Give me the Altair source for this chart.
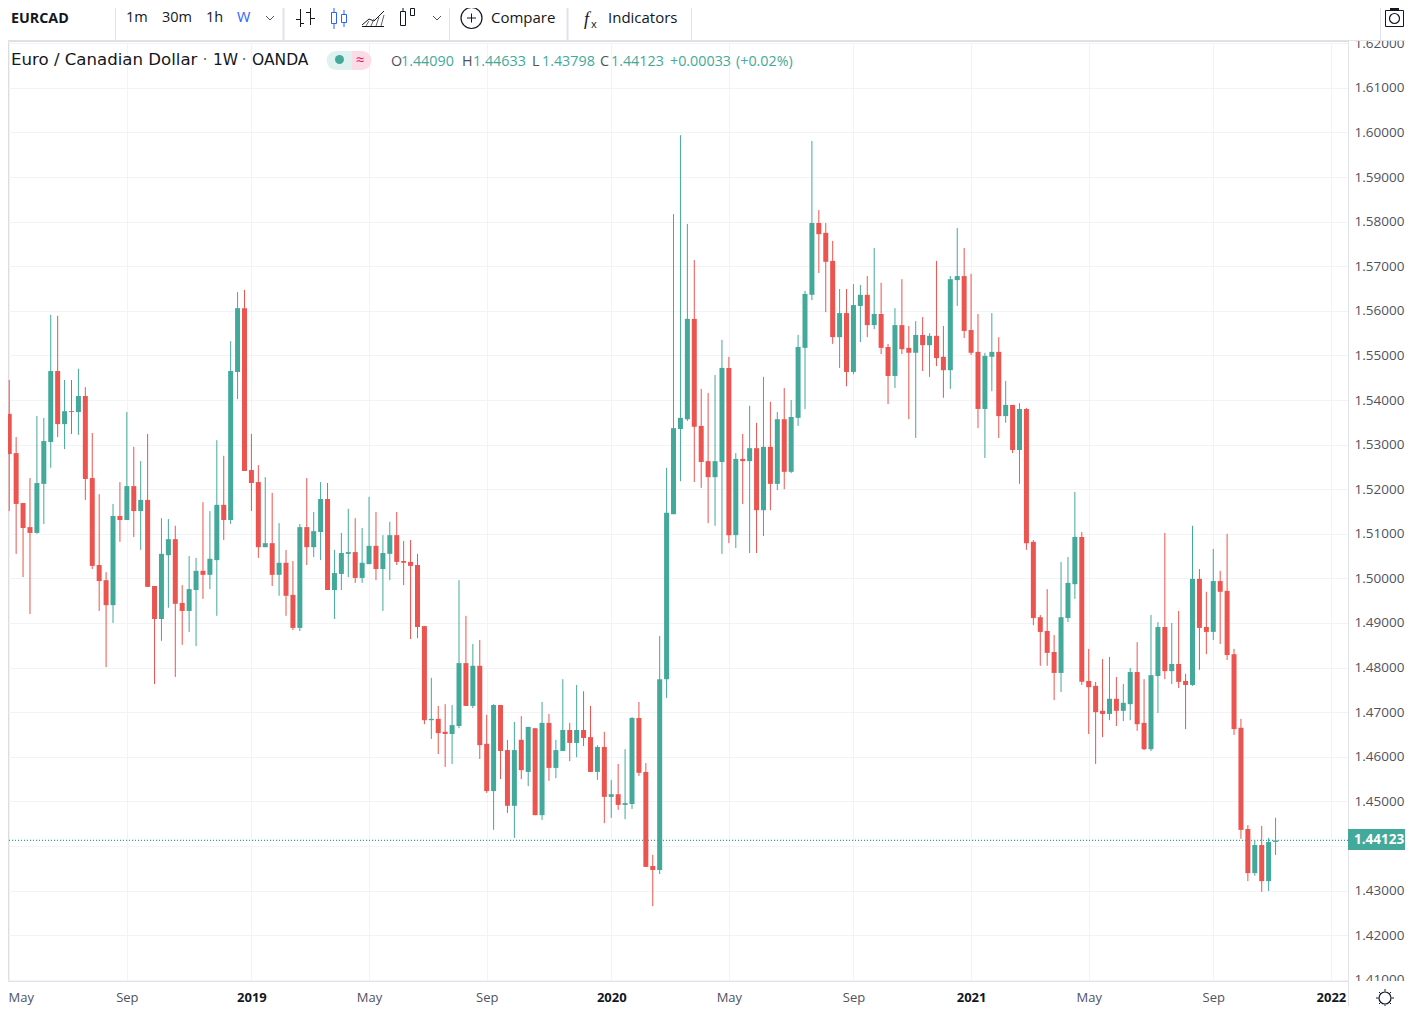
import altair as alt
import pandas as pd

opens = [1.5564,1.5369,1.5281,1.5169,1.5115,1.5102,1.5212,1.5306,1.5465,1.5346,
1.5375,1.5373,1.5409,1.5225,1.5030,1.4996,1.4940,1.5140,1.5131,1.5207,
1.5151,1.5176,1.4983,1.4909,1.5052,1.5088,1.4945,1.4927,1.4974,1.5017,
1.5008,1.5041,1.5165,1.5131,1.5463,1.5606,1.5243,1.5216,1.5070,1.5079,
1.5008,1.5035,1.4963,1.4889,1.5115,1.5070,1.5104,1.5178,1.4974,1.5010,
1.5055,1.5059,1.5001,1.5032,1.5073,1.5021,1.5055,1.5097,1.5039,1.5037,
1.5030,1.4893,1.4682,1.4685,1.4656,1.4651,1.4669,1.4810,1.4714,1.4804,
1.4629,1.4523,1.4716,1.4615,1.4490,1.4638,1.4566,1.4664,1.4469,1.4676,
1.4575,1.4613,1.4660,1.4631,1.4660,1.4644,1.4566,1.4622,1.4510,1.4516,
1.4492,1.4494,1.4687,1.4566,1.4355,1.4346,1.4774,1.5144,1.5335,1.5357,
1.5582,1.5342,1.5263,1.5227,1.5261,1.5472,1.5097,1.5268,1.5263,1.5292,
1.5153,1.5295,1.5212,1.5357,1.5239,1.5360,1.5517,1.5636,1.5797,1.5775,
1.5712,1.5541,1.5595,1.5463,1.5611,1.5636,1.5568,1.5593,1.5519,1.5454,
1.5568,1.5517,1.5506,1.5546,1.5523,1.5544,1.5497,1.5467,1.5669,1.5678,
1.5557,1.5508,1.5380,1.5497,1.5508,1.5364,1.5389,1.5288,1.5380,1.5082,
1.4913,1.4882,1.4835,1.4788,1.4911,1.4987,1.5093,1.4770,1.4759,1.4703,
1.4696,1.4730,1.4703,1.4718,1.4790,1.4676,1.4617,1.4781,1.4891,1.4792,
1.4808,1.4770,1.4761,1.4999,1.4891,1.4880,1.4994,1.4972,1.4830,1.4665,
1.4438,1.4339,1.4402,1.4321,1.44090]

closes = [1.5366,1.5279,1.5167,1.5113,1.5102,1.5214,1.5308,1.5465,1.5346,1.5375,
1.5373,1.5409,1.5223,1.5028,1.4994,1.4940,1.5140,1.5131,1.5207,1.5151,
1.5176,1.4981,1.4909,1.5055,1.5088,1.4943,1.4927,1.4976,1.5017,1.5008,
1.5044,1.5165,1.5131,1.5465,1.5606,1.5241,1.5214,1.5070,1.5079,1.5008,
1.5035,1.4961,1.4889,1.5115,1.5070,1.5106,1.5178,1.4974,1.5012,1.5057,
1.5059,1.5001,1.5035,1.5073,1.5021,1.5057,1.5097,1.5037,1.5035,1.5028,
1.4891,1.4682,1.4685,1.4653,1.4651,1.4671,1.4810,1.4714,1.4804,1.4626,
1.4523,1.4716,1.4613,1.4490,1.4615,1.4570,1.4667,1.4469,1.4676,1.4575,
1.4615,1.4660,1.4631,1.4660,1.4642,1.4566,1.4622,1.4510,1.4516,1.4492,
1.4496,1.4687,1.4564,1.4353,1.4346,1.4774,1.5147,1.5337,1.5360,1.5582,
1.5340,1.5261,1.5227,1.5263,1.5472,1.5097,1.5268,1.5263,1.5292,1.5153,
1.5295,1.5212,1.5357,1.5239,1.5362,1.5519,1.5638,1.5797,1.5772,1.5710,
1.5541,1.5595,1.5463,1.5613,1.5636,1.5568,1.5593,1.5517,1.5454,1.5568,
1.5514,1.5506,1.5546,1.5523,1.5544,1.5494,1.5467,1.5671,1.5678,1.5555,
1.5506,1.5380,1.5499,1.5508,1.5364,1.5389,1.5288,1.5380,1.5079,1.4911,
1.4880,1.4833,1.4788,1.4913,1.4990,1.5093,1.4768,1.4756,1.4700,1.4696,
1.4730,1.4703,1.4721,1.4790,1.4673,1.4617,1.4783,1.4891,1.4792,1.4808,
1.4768,1.4761,1.4999,1.4889,1.4880,1.4994,1.4970,1.4828,1.4662,1.4436,
1.4339,1.4402,1.4321,1.4409,1.44123]

highs = [1.5593,1.5445,1.5317,1.5169,1.5225,1.5364,1.5360,1.5591,1.5589,1.5445,
1.5445,1.5470,1.5429,1.5326,1.5189,1.5014,1.5167,1.5216,1.5373,1.5295,
1.5263,1.5324,1.4983,1.5135,1.5133,1.5118,1.4985,1.5050,1.5046,1.5171,
1.5151,1.5310,1.5275,1.5532,1.5642,1.5647,1.5324,1.5254,1.5227,1.5192,
1.5124,1.5064,1.5039,1.5122,1.5225,1.5149,1.5216,1.5214,1.5064,1.5102,
1.5156,1.5135,1.5113,1.5183,1.5149,1.5097,1.5127,1.5149,1.5084,1.5086,
1.5055,1.4893,1.4777,1.4714,1.4718,1.4716,1.4996,1.4916,1.4853,1.4862,
1.4694,1.4718,1.4716,1.4638,1.4678,1.4691,1.4667,1.4664,1.4723,1.4696,
1.4638,1.4774,1.4676,1.4761,1.4747,1.4714,1.4626,1.4656,1.4548,1.4584,
1.4617,1.4689,1.4723,1.4586,1.4380,1.4871,1.5248,1.5817,1.5994,1.5795,
1.5714,1.5425,1.5416,1.5456,1.5535,1.5497,1.5281,1.5324,1.5387,1.5349,
1.5452,1.5396,1.5373,1.5427,1.5400,1.5546,1.5645,1.5981,1.5826,1.5797,
1.5757,1.5649,1.5649,1.5660,1.5658,1.5678,1.5741,1.5663,1.5526,1.5606,
1.5671,1.5566,1.5577,1.5586,1.5550,1.5712,1.5566,1.5678,1.5786,1.5741,
1.5683,1.5593,1.5506,1.5595,1.5541,1.5443,1.5389,1.5393,1.5382,1.5086,
1.4918,1.4976,1.4873,1.5037,1.5048,1.5194,1.5104,1.4842,1.4768,1.4819,
1.4824,1.4779,1.4763,1.4799,1.4857,1.4774,1.4918,1.4902,1.5102,1.4900,
1.4927,1.4786,1.5118,1.5021,1.4970,1.5066,1.5017,1.5100,1.4842,1.4685,
1.4447,1.4413,1.4445,1.4418,1.44633]

lows = [1.5337,1.5151,1.5055,1.5003,1.4920,1.5100,1.5122,1.5248,1.5317,1.5290,
1.5324,1.5322,1.5176,1.5021,1.4927,1.4801,1.4900,1.5082,1.5131,1.5093,
1.5064,1.4981,1.4763,1.4860,1.4934,1.4779,1.4851,1.4880,1.4848,1.4954,
1.4976,1.4916,1.5086,1.5122,1.5402,1.5241,1.5151,1.5046,1.5070,1.4983,
1.4961,1.4916,1.4884,1.4882,1.5030,1.5048,1.5041,1.4974,1.4909,1.4974,
1.5003,1.4990,1.4990,1.5032,1.4996,1.4927,1.4996,1.5030,1.4985,1.4864,
1.4866,1.4673,1.4640,1.4606,1.4577,1.4584,1.4664,1.4714,1.4709,1.4595,
1.4519,1.4436,1.4550,1.4474,1.4418,1.4550,1.4534,1.4469,1.4458,1.4546,
1.4552,1.4613,1.4590,1.4599,1.4624,1.4566,1.4548,1.4451,1.4463,1.4481,
1.4460,1.4483,1.4557,1.4353,1.4265,1.4337,1.4732,1.5144,1.5218,1.5353,
1.5216,1.5203,1.5124,1.5118,1.5055,1.5079,1.5068,1.5167,1.5057,1.5057,
1.5095,1.5153,1.5198,1.5200,1.5236,1.5342,1.5380,1.5624,1.5685,1.5597,
1.5526,1.5472,1.5431,1.5458,1.5530,1.5541,1.5559,1.5503,1.5391,1.5427,
1.5503,1.5357,1.5315,1.5465,1.5452,1.5476,1.5405,1.5425,1.5611,1.5539,
1.5501,1.5337,1.5270,1.5420,1.5315,1.5349,1.5281,1.5212,1.5064,1.4895,
1.4804,1.4804,1.4727,1.4745,1.4902,1.4954,1.4761,1.4651,1.4584,1.4644,
1.4682,1.4669,1.4680,1.4682,1.4658,1.4615,1.4613,1.4698,1.4774,1.4763,
1.4754,1.4662,1.4759,1.4795,1.4830,1.4862,1.4853,1.4817,1.4649,1.4416,
1.4321,1.4333,1.4297,1.4299,1.43798]

tick_weeks = [1, 18, 36, 53, 70, 88, 105, 123, 140, 157, 175, 192]
tick_names = ["", "Sep", "2019", "May", "Sep", "2020", "May", "Sep", "2021", "May", "Sep", "2022"]
year_weeks = [36, 88, 140, 192]
price_ticks = [round(1.41 + 0.01 * k, 2) for k in range(22)]
last_price = 1.44123

UP, DOWN = "#43A99B", "#EC544F"
INK, GREY, LINE, GRID, BLUE = "#131722", "#50535E", "#E0E3EB", "#F2F3F6", "#2962FF"
FONT = "Open Sans"
PW, PH = 1340, 940

candles = pd.DataFrame({"week": list(range(len(opens))), "open": opens, "high": highs, "low": lows, "close": closes})
candles["top"] = candles[["open", "close"]].max(axis=1)
candles["bottom"] = candles[["open", "close"]].min(axis=1)

label_map = "{" + ",".join(f"{w}:'{n}'" for w, n in zip(tick_weeks, tick_names)) + "}"
is_year = f"indexof({year_weeks}, datum.value) >= 0"

x_scale = alt.Scale(domain=[0.8237, 194.47], nice=False, zero=False, padding=0)
y_scale = alt.Scale(domain=[1.40971, 1.62052], nice=False, zero=False, padding=0)
color = alt.condition("datum.close >= datum.open", alt.value(UP), alt.value(DOWN))

x_axis = alt.Axis(values=tick_weeks, labelExpr=f"{label_map}[datum.value]", title=None, grid=True,
                  gridColor=GRID, ticks=False, domainColor=LINE, labelFont=FONT, labelFontSize=13,
                  labelColor={"condition": {"test": is_year, "value": INK}, "value": GREY},
                  labelFontWeight={"condition": {"test": is_year, "value": "bold"}, "value": "normal"},
                  labelPadding=10, labelOverlap=False, labelFlush=False, labelBound=False)
y_axis = alt.Axis(values=price_ticks, orient="right", title=None, grid=True, gridColor=GRID,
                  labelExpr="abs(datum.value - 1.44) < 0.001 ? '' : format(datum.value, '.5f')",
                  ticks=False, domainColor=LINE, labelFont=FONT, labelFontSize=13.5, labelColor=GREY,
                  labelPadding=6, labelOverlap=False, labelFlush=False, labelBound=False)

base = alt.Chart(candles)
wicks = base.mark_rule(strokeWidth=1, clip=True).encode(
    x=alt.X("week:Q", scale=x_scale, axis=x_axis),
    y=alt.Y("high:Q", scale=y_scale, axis=y_axis),
    y2="low:Q", color=color)
bodies = base.mark_bar(size=5, clip=True).encode(
    x=alt.X("week:Q", scale=x_scale), y=alt.Y("top:Q", scale=y_scale), y2="bottom:Q", color=color)
price_line = alt.Chart(pd.DataFrame({"p": [last_price]})).mark_rule(
    strokeDash=[1, 2], strokeWidth=1.2, color="#26A69A").encode(y=alt.Y("p:Q", scale=y_scale))
price_text = alt.Chart(pd.DataFrame({"p": [last_price]})).mark_text(
    font=FONT, fontSize=13.5, fontWeight="bold", color="white", align="left", baseline="middle").encode(
    x=alt.value(1346), y=alt.Y("p:Q", scale=y_scale), text=alt.Text("p:Q", format=".5f"))


def rx(v):
    return v - 8


def ry(v):
    return v - 41


def rect(x0, y0, x1, y1, fill):
    return alt.Chart().mark_rect(color=fill).encode(
        x=alt.value(rx(x0)), x2=alt.value(rx(x1)), y=alt.value(ry(y0)), y2=alt.value(ry(y1)))


def seg(x0, y0, x1, y1, col=INK, w=1.0):
    return alt.Chart().mark_rule(color=col, strokeWidth=w).encode(
        x=alt.value(rx(x0)), x2=alt.value(rx(x1)), y=alt.value(ry(y0)), y2=alt.value(ry(y1)))


def txt(s, x, y, col=INK, size=14.5, weight="normal", align="left", style="normal", font=FONT):
    return alt.Chart().mark_text(text=s, font=font, fontSize=size, fontWeight=weight, color=col, align=align,
                                 baseline="middle", fontStyle=style).encode(x=alt.value(rx(x)), y=alt.value(ry(y)))


def box(x0, y0, x1, y1, col=INK):
    return [seg(x0, y0, x1, y0, col), seg(x0, y1, x1, y1, col), seg(x0, y0, x0, y1, col), seg(x1, y0, x1, y1, col)]


def ring(x, y, d, col=INK, fill=None, w=1.2):
    kw = {"color": col, "strokeWidth": w, "filled": fill is not None, "opacity": 1}
    return alt.Chart().mark_point(shape="circle", size=d * d, **kw).encode(x=alt.value(rx(x)), y=alt.value(ry(y)))


def chevron(x, y):
    return [seg(x - 4, y - 2, x, y + 2, GREY), seg(x, y + 2, x + 4, y - 2, GREY)]


ui = [rect(0, 8, 1405, 41, "white"), rect(1349, 981, 1405, 990, "white")]
ui += [seg(0, 40.5, 1405, 40.5, LINE)]
for sx, w in [(115.5, 1), (283.5, 2), (449.5, 1), (567.5, 2), (691.5, 1), (1380.5, 1)]:
    ui.append(seg(sx, 8, sx, 40, LINE, w))
ui += [seg(1348.5, 981, 1348.5, 1006, LINE)]

ui += [txt("EURCAD", 11, 18.5, size=14.3, weight="bold"),
       txt("1m", 126, 18), txt("30m", 162, 18), txt("1h", 206, 18), txt("W", 237, 18, BLUE)]
ui += chevron(270, 18) + chevron(437, 18)
ui += [txt("May", 8.5, 998, GREY, size=13)]

# bar-style icon
ui += [seg(300.5, 9, 300.5, 27), seg(296, 19.5, 300, 19.5), seg(301, 23.5, 304, 23.5),
       seg(310.5, 8, 310.5, 25), seg(306, 12.5, 310, 12.5), seg(311, 18.5, 315, 18.5)]
# candle-style icon (selected)
ui += box(331.5, 12.5, 336.5, 23.5, BLUE) + [seg(334, 8, 334, 12, BLUE), seg(334, 24, 334, 29, BLUE)]
ui += box(341.5, 14.5, 346.5, 22.5, BLUE) + [seg(344, 10, 344, 14, BLUE), seg(344, 23, 344, 27, BLUE)]
# area-style icon
ui += [seg(362, 25, 369, 19), seg(369, 19, 374, 21), seg(374, 21, 384, 11), seg(362, 26.5, 384, 26.5)]
for k in range(4):
    ui.append(seg(366 + 5 * k, 26, 369 + 5 * k, 21 - 2 * k, "#666666", 1))
# hollow-candle icon
ui += box(400.5, 11.5, 405.5, 25.5) + [seg(403, 6, 403, 11)]
ui += box(410.5, 8.5, 414.5, 15.5) + [seg(412.5, 4, 412.5, 8)]

ui += [ring(471.5, 18, 21), seg(467, 18, 476, 18), seg(471.5, 13.5, 471.5, 22.5),
       txt("Compare", 491, 18, size=15), txt("Indicators", 608, 18, size=15),
       txt("f", 584, 20, size=18, style="italic", font="Liberation Serif"), txt("x", 591, 25, size=11)]

# camera icon
ui += box(1385.5, 10.5, 1403.5, 26.5) + [ring(1394.5, 18.5, 10), rect(1390, 8, 1399, 10, INK)]
# settings icon
ui += [ring(1385, 998, 12), seg(1385, 989, 1385, 991.5), seg(1385, 1004.5, 1385, 1006),
       seg(1376, 998, 1378.5, 998), seg(1391.5, 998, 1394, 998),
       seg(1379, 992, 1380.5, 993.5), seg(1389.5, 1002.5, 1391, 1004),
       seg(1379, 1004, 1380.5, 1002.5), seg(1389.5, 993.5, 1391, 992)]

# legend row
LEG = "DejaVu Sans"
ui += [txt("Euro / Canadian Dollar", 11, 60, size=16.6, font=LEG),
       txt("·", 203, 60, GREY, size=15.5), txt("1W", 213, 60, size=15.5, font=LEG),
       txt("·", 242, 60, GREY, size=15.5), txt("OANDA", 252, 60, size=15.5, font=LEG)]
ui += [rect(336, 51, 352, 70, "#E0F2EF"), rect(352, 51, 362, 70, "#FBDCE6"),
       ring(336, 60.5, 19, "#E0F2EF", "#E0F2EF"), ring(362, 60.5, 19, "#FBDCE6", "#FBDCE6"),
       ring(339.5, 59.5, 9, UP, UP), txt("≈", 360, 60, "#D81B60", size=15, align="center")]
for head, hx, val, vx in [("O", 391, "1.44090", 401), ("H", 462, "1.44633", 473),
                          ("L", 532, "1.43798", 542), ("C", 600, "1.44123", 611)]:
    ui += [txt(head, hx, 62, GREY, size=14.3), txt(val, vx, 62, UP, size=14.3)]
ui += [txt("+0.00033", 670, 62, UP, size=14.3), txt("(+0.02%)", 736, 62, UP, size=14.3)]

tag = [rect(1348, 829, 1405, 850, UP)]

chart = alt.layer(price_line, wicks, bodies, *ui, *tag, price_text).properties(
    width=PW, height=PH,
    autosize=alt.AutoSizeParams(type="none"),
    padding={"left": 0, "top": 33, "right": 57, "bottom": 25},
).configure_view(stroke=None).configure(background="white")

chart.save("out.html", embed_options={"renderer": "svg", "actions": False})
